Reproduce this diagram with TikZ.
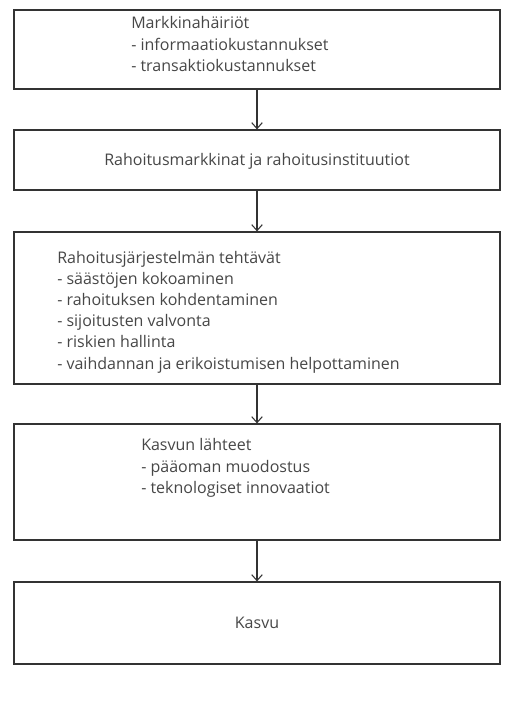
\documentclass[tikz,border=0pt]{standalone}
\usepackage{fontspec}
\setmainfont{Open Sans}
\usepackage{xcolor}
\usepackage{tikz}
\usetikzlibrary{arrows.meta}
\definecolor{border}{HTML}{333333}
\definecolor{ink}{HTML}{474747}
\tikzset{
  box/.style={draw=border, line width=0.9pt, minimum width=364.5pt, inner sep=0pt},
  txt/.style={text=ink, font=\fontsize{12}{15.9}\selectfont, align=left, inner sep=0pt},
  flow/.style={-{Straight Barb[length=4.5pt,width=8pt]}, line width=0.8pt, draw=border}
}
\begin{document}
\begin{tikzpicture}[x=0.75pt,y=-0.75pt]
  \fill[white] (0,0) rectangle (515,708);
  \useasboundingbox (0,0) rectangle (515,708);

  % boxes
  \node[box, minimum height=59.25pt] (mh) at (257,49.5) {};
  \node[box, minimum height=45pt] (rm) at (257,160) {};
  \node[box, minimum height=114pt] (rt) at (257,308) {};
  \node[box, minimum height=87pt] (kl) at (257,482) {};
  \node[box, minimum height=61.5pt] (ka) at (257,623) {};

  % texts
  \node[txt, anchor=west] (mhT) at (131,44) {Markkinahäiriöt\\- informaatiokustannukset\\- transaktiokustannukset};
  \node[txt] (rmT) at (257,161) {Rahoitusmarkkinat ja rahoitusinstituutiot};
  \node[txt, anchor=west] (rtT) at (57,312) {Rahoitusjärjestelmän tehtävät\\- säästöjen kokoaminen\\- rahoituksen kohdentaminen\\- sijoitusten valvonta\\- riskien hallinta\\- vaihdannan ja erikoistumisen helpottaminen};
  \node[txt, anchor=west] (klT) at (141,468) {Kasvun lähteet\\- pääoman muodostus\\- teknologiset innovaatiot};
  \node[txt] (kaT) at (257,623) {Kasvu};

  % arrows
  \draw[flow] (mh) -- (rm);
  \draw[flow] (rm) -- (rt);
  \draw[flow] (rt) -- (kl);
  \draw[flow] (kl) -- (ka);
\end{tikzpicture}
\end{document}
